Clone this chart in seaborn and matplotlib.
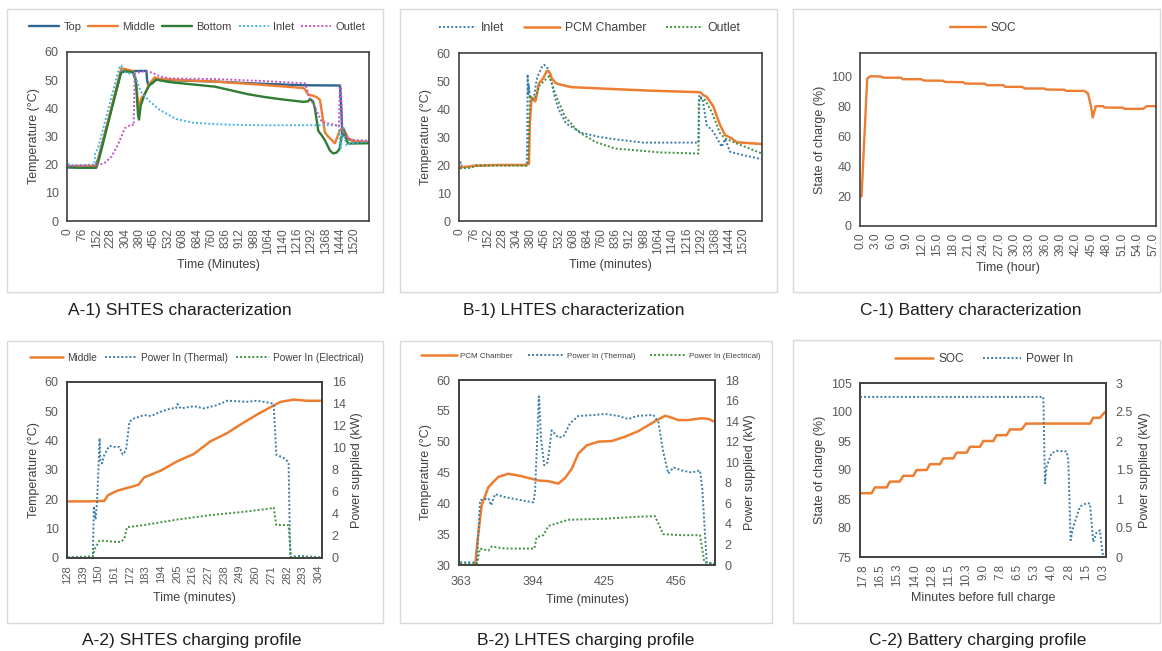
import numpy as np
import matplotlib
matplotlib.use('Agg')
import matplotlib.pyplot as plt
from matplotlib.patches import Rectangle
import seaborn as sns

# ------------------------------------------------------------------
# data
# ------------------------------------------------------------------
# A-1) SHTES characterization (minutes, degC)
a1_top_t = [0, 145, 160, 283, 300, 416, 420, 425, 445, 469, 540, 779, 1000, 1248, 1443, 1450, 1455, 1478, 1522, 1593]
a1_top = [19, 19, 22, 53, 53.2, 53.3, 50, 48.5, 48.8, 50.3, 50, 49.5, 48.8, 48.2, 48.1, 40, 31, 29.3, 28.2, 28]
a1_mid_t = [0, 150, 162, 283, 300, 345, 360, 375, 389, 407, 430, 460, 480, 600, 779, 1000, 1248, 1257, 1275, 1300,
            1319, 1337, 1363, 1380, 1416, 1443, 1460, 1487, 1522, 1593]
a1_mid = [19.5, 19.6, 22, 54.2, 54, 53.2, 50, 40, 43.5, 45, 48.5, 51, 50.5, 50, 49.5, 48.5, 47.2, 46.8, 44.8, 44.5,
          44, 43, 31.5, 30, 27.6, 32.3, 33, 29.3, 28.3, 28.1]
a1_bot_t = [0, 60, 150, 165, 280, 300, 345, 360, 372, 377, 386, 407, 430, 469, 540, 779, 956, 1045, 1133, 1248,
            1275, 1283, 1300, 1310, 1328, 1345, 1363, 1390, 1407, 1425, 1440, 1452, 1460, 1470, 1478, 1487, 1593]
a1_bot = [19.2, 18.9, 18.9, 22, 52.5, 53.2, 52.8, 50, 37.5, 36, 41, 45, 48, 50.2, 49.3, 47.7, 45, 44, 43.2, 42.3,
          42.5, 43.3, 42.5, 40, 32, 30.5, 28.7, 25, 24, 24.3, 25.5, 30, 32.8, 31, 28.5, 27.5, 27.6]
a1_in_t = [0, 10, 140, 145, 160, 274, 283, 292, 349, 354, 372, 386, 425, 487, 575, 664, 805, 1000, 1200, 1437,
           1443, 1447, 1455, 1462, 1470, 1478, 1496, 1593]
a1_in = [20.4, 19.8, 20, 24, 26, 55, 55.2, 53, 52, 51.9, 48.5, 46, 43, 39.4, 36.2, 34.9, 34.3, 34, 34, 34,
         27, 25.5, 31, 33, 29, 26.8, 27.5, 28.2]
a1_out_t = [0, 150, 191, 230, 265, 301, 336, 349, 354, 389, 425, 452, 487, 540, 779, 1000, 1257, 1283, 1310, 1345,
            1416, 1437, 1443, 1448, 1455, 1487, 1522, 1593]
a1_out = [19.5, 19.8, 20.4, 22.8, 27, 32.9, 34.3, 34, 52.3, 53.1, 53.1, 52.5, 51.3, 50.6, 50.4, 49.8, 48.9, 43.6, 40.6, 35.3,
          34.1, 33.5, 48.3, 48, 32.3, 29.3, 28.7, 28.5]

# B-1) LHTES characterization (minutes, degC)
b1_in_t = [0, 5, 9, 40, 80, 200, 358, 361, 363, 367, 370, 375, 381, 390, 399, 410, 420, 440, 452, 470,
           480, 492, 510, 527, 563, 581, 653, 742, 831, 984, 1279, 1281, 1284, 1302, 1323, 1359, 1404, 1422, 1449, 1520, 1619]
b1_in = [20.5, 21, 19.5, 19, 20, 20, 19.8, 30, 52.4, 45, 48.6, 44, 43.8, 44, 45, 50, 52.2, 55, 55.8, 54.6,
         52, 49.2, 44, 40.3, 35.5, 34.3, 31.5, 30.1, 29.2, 28, 28, 42, 45, 43.3, 34.3, 31.9, 26.5, 29.3, 24.7, 23.5, 22.1]
b1_pcm_t = [0, 9, 80, 200, 358, 370, 375, 384, 393, 402, 406, 424, 447, 465, 474, 485, 492, 510, 527, 599,
            831, 1000, 1288, 1305, 1323, 1359, 1380, 1395, 1422, 1458, 1485, 1619]
b1_pcm = [19, 19.2, 19.7, 20, 20, 20.5, 35, 43.8, 44, 42.7, 43, 49.2, 51, 53.5, 53.6, 52.5, 51, 49.5, 48.9, 47.8,
          47.1, 46.6, 46, 45, 44.4, 40.9, 37, 34.3, 30.7, 29.5, 28.1, 27.5]
b1_out_t = [0, 60, 80, 200, 358, 367, 375, 388, 402, 429, 477, 492, 510, 563, 635, 724, 831, 1073, 1279, 1284,
            1314, 1350, 1395, 1422, 1485, 1619]
b1_out = [18.8, 19, 19.7, 19.8, 19.8, 22, 45, 43.3, 43.8, 48.6, 51.6, 49.5, 45.6, 37.3, 31.9, 28.3, 25.9, 24.5, 24.1, 43.8,
          43.3, 39, 31.3, 29.5, 27.7, 24.1]

# C-1) Battery characterization (hour, %)
c1_h = [0, 0.3, 1.4, 2.0, 4.0, 4.6, 8.0, 8.3, 11.9, 12.4, 16.1, 16.5, 20.1, 20.4, 24.3, 24.6, 27.9, 28.2, 31.5, 32.0,
        35.8, 36.1, 39.7, 40.0, 43.6, 44.3, 44.9, 45.2, 45.8, 47.2, 47.5, 51.1, 51.4, 55.0, 55.7, 57.5]
c1_soc = [19.8, 19.8, 98.4, 100, 99.8, 99, 99, 98, 98, 97.1, 97, 96.2, 96, 95.1, 95, 94, 94, 92.9, 92.9, 91.8,
          91.8, 91.1, 91, 90.2, 90.2, 88.4, 79.5, 72.4, 80, 80, 79.1, 79, 78.2, 78.2, 80, 80]

# A-2) SHTES charging profile (minutes, degC / kW)
a2_mid_t = [128.5, 145, 154.2, 156.6, 163.5, 174, 178, 182.1, 193.7, 205.3, 216.9, 228.5, 240.2, 249.4, 261, 272.7,
            277.3, 286.6, 295.9, 306.5]
a2_mid = [19.3, 19.3, 19.5, 21.4, 23, 24.4, 25, 27.5, 29.8, 33, 35.5, 39.8, 42.6, 45.5, 48.9, 52, 53.2, 54, 53.6, 53.6]
a2_th_t = [128.5, 146.1, 146.8, 148, 149, 150.3, 150.8, 151.4, 152.5, 154.2, 157.7, 161.2, 164.7, 167, 169.3, 171.7,
           175.1, 182.1, 186.7, 193.7, 200.7, 204.2, 205.3, 207.6, 216.9, 223.9, 233.2, 240.2, 254.1, 261, 270.3,
           272.7, 274.5, 279.6, 283.1, 284.3, 290, 306.5]
a2_th = [0.05, 0.05, 4.7, 3.5, 5, 9, 10.9, 8.8, 8.6, 9.4, 10.2, 10.1, 10.1, 9.4, 9.8, 12.4,
         12.7, 13, 12.9, 13.3, 13.6, 13.6, 14, 13.6, 13.8, 13.6, 13.9, 14.3, 14.2, 14.3, 14.1,
         14, 9.4, 9.1, 8.7, 0.06, 0.2, 0.05]
a2_el_t = [128.5, 146.1, 147.3, 150.8, 158.9, 165.8, 168.2, 170, 182.1, 205.3, 228.5, 251.8, 270.3, 272.7, 274.5,
           283.1, 284.7, 306.5]
a2_el = [0.06, 0.15, 0.8, 1.6, 1.5, 1.45, 1.8, 2.8, 3, 3.5, 3.9, 4.2, 4.5, 4.6, 3.0, 3.0, 0.06, 0.05]

# B-2) LHTES charging profile (minutes, degC / kW)
b2_pcm_t = [369.1, 370.2, 371.9, 374.8, 377, 379.2, 383.5, 389.2, 396.5, 400.8, 405.1, 408, 410.9, 413.8, 417.4,
            422.4, 428.2, 433.9, 439.7, 446.9, 451.3, 454.1, 457, 461.3, 467.1, 470, 472.9]
b2_pcm = [30, 34.2, 39.7, 42.6, 43.5, 44.3, 44.8, 44.4, 43.7, 43.6, 43.2, 44.1, 45.6, 48.1, 49.4,
          50, 50.1, 50.8, 51.7, 53.3, 54.2, 53.9, 53.5, 53.5, 53.8, 53.7, 53.2]
b2_th_t = [362.6, 369.1, 369.8, 371.2, 374.8, 376, 377.7, 382, 389.2, 394.3, 395, 396.7, 397.6, 399, 400.5, 402.2,
           405.1, 407.3, 410.2, 413.8, 421, 425.3, 431.1, 435.4, 439, 446.2, 448.4, 450.5, 452.7, 454.9, 458.5,
           462.8, 466.4, 467.4, 469.3, 472.9]
b2_th = [0.26, 0.26, 0.1, 6.3, 6.5, 5.8, 6.9, 6.6, 6.3, 6.1, 7.1, 16.4, 12.3, 9.7, 10, 13.1,
         12.4, 12.5, 13.8, 14.5, 14.6, 14.7, 14.5, 14.2, 14.5, 14.6, 13.9, 11, 8.9, 9.5, 9.2,
         9, 9.2, 7.4, 0.26, 0.1]
b2_el_t = [362.6, 369.8, 371.2, 374.8, 376.3, 382, 394.7, 395.7, 398.6, 400.8, 403.7, 409.4, 425.3, 439.7, 446.9,
           450.5, 458.5, 466.4, 468.3, 472.9]
b2_el = [0.1, 0.1, 1.6, 1.4, 1.8, 1.6, 1.6, 2.7, 2.9, 3.8, 4, 4.4, 4.5, 4.7, 4.75, 3, 2.9, 2.9, 0.26, 0.1]

# C-2) Battery charging profile (minutes before full charge, % / kW)
c2_soc_m = [17.99, 17.14, 16.9, 16.05, 15.8, 15.1, 14.83, 14.1, 13.86, 13.13, 12.89, 12.16, 11.92, 11.19, 10.94,
            10.21, 9.97, 9.24, 9.0, 8.27, 8.03, 7.3, 7.05, 6.2, 5.89, 1.22, 0.98, 0.49, 0.13]
c2_soc = [86, 86, 87, 87, 88, 88, 89, 89, 90, 90, 91, 91, 92, 92, 93, 93, 94, 94, 95, 95, 96, 96, 97, 97, 98, 98, 99, 99, 100]
c2_pw_m = [17.99, 4.62, 4.5, 4.38, 4.02, 3.65, 2.92, 2.8, 2.63, 2.44, 1.95, 1.46, 1.22, 0.98, 0.73, 0.49, 0.3, 0.13]
c2_pw = [2.76, 2.76, 1.27, 1.56, 1.79, 1.83, 1.82, 1.67, 0.29, 0.52, 0.87, 0.93, 0.92, 0.26, 0.43, 0.46, 0.06, 0]
c2_ticks = [17.75, 16.5, 15.25, 14.0, 12.75, 11.5, 10.25, 9.0, 7.75, 6.5, 5.25, 4.0, 2.75, 1.5, 0.25]
c2_ticklabels = ['17.8', '16.5', '15.3', '14.0', '12.8', '11.5', '10.3', '9.0', '7.8', '6.5', '5.3', '4.0',
                 '2.8', '1.5', '0.3']

titles = ['A-1) SHTES characterization', 'B-1) LHTES characterization', 'C-1) Battery characterization',
          'A-2) SHTES charging profile', 'B-2) LHTES charging profile', 'C-2) Battery charging profile']

# ------------------------------------------------------------------
# style
# ------------------------------------------------------------------
sns.set_style('white')
plt.rcParams['font.family'] = ['Liberation Sans', 'DejaVu Sans']

ORANGE = '#ED7D31'
DBLUE = '#2C6591'
GREEN = '#2E7D32'
LBLUE = '#45B4E5'
MAGENTA = '#C454C4'
MBLUE = '#3A7DAA'
MGREEN = '#3F9142'
TXT = '#595959'
LAB = '#404040'
DOT = (0, (1, 1.1))
AXFS = 9

W, H = 1162, 651
fig = plt.figure(figsize=(W / 100, H / 100), dpi=100)


def px_box(x0, y0, x1, y1):
    return [x0 / W, 1 - y1 / H, (x1 - x0) / W, (y1 - y0) / H]


def frame(x0, y0, x1, y1):
    fig.add_artist(Rectangle((x0 / W, 1 - y1 / H), (x1 - x0) / W, (y1 - y0) / H, transform=fig.transFigure,
                             fill=False, edgecolor='#D9D9D9', linewidth=1.0))


def draw(ax, x, y, color, label, ls='-', lw=1.6):
    sns.lineplot(x=x, y=y, ax=ax, color=color, linestyle=ls, linewidth=lw,
                 estimator=None, sort=False, legend=False)
    line = ax.lines[-1]
    line.set_label(label)
    return line


def style(ax, xfs=8.6, yfs=9, xpad=5, ypad=6):
    ax.tick_params(axis='both', length=0, colors=TXT)
    ax.tick_params(axis='x', labelsize=xfs, pad=xpad)
    ax.tick_params(axis='y', labelsize=yfs, pad=ypad)
    for s in ax.spines.values():
        s.set_color('#404040')
        s.set_linewidth(1.2)
    ax.grid(False)


def legend(handles, cx, cy, fs, hl=3.0, cs=1.2):
    fig.legend(handles, [h.get_label() for h in handles], loc='center', bbox_to_anchor=(cx / W, 1 - cy / H),
               ncol=len(handles), frameon=False, fontsize=fs, handlelength=hl, columnspacing=cs,
               handletextpad=0.4, labelcolor=LAB, borderaxespad=0, borderpad=0)


# panel frames
frame(7, 9, 383, 292)
frame(400, 9, 777, 292)
frame(793, 9, 1160, 292)
frame(7, 341, 383, 623)
frame(400, 341, 772, 623)
frame(793, 340, 1160, 623)

# ---------------- A-1 ----------------
ax = fig.add_axes(px_box(67, 52, 369, 221))
hs = [draw(ax, a1_top_t, a1_top, DBLUE, 'Top', lw=1.7),
      draw(ax, a1_mid_t, a1_mid, ORANGE, 'Middle', lw=1.7),
      draw(ax, a1_bot_t, a1_bot, GREEN, 'Bottom', lw=1.7),
      draw(ax, a1_in_t, a1_in, LBLUE, 'Inlet', ls=DOT, lw=1.4),
      draw(ax, a1_out_t, a1_out, MAGENTA, 'Outlet', ls=DOT, lw=1.4)]
ax.set_xlim(-5, 1597)
ax.set_ylim(0, 60)
ax.set_yticks(range(0, 61, 10))
ax.set_xticks(range(0, 1521, 76))
ax.set_xticklabels([str(v) for v in range(0, 1521, 76)], rotation=90)
ax.set_ylabel('Temperature (°C)', fontsize=AXFS, color=LAB, labelpad=3)
ax.set_xlabel('Time (Minutes)', fontsize=AXFS, color=LAB, labelpad=3)
style(ax)
legend(hs, 197, 27, 8.0, hl=2.7, cs=0.6)

# ---------------- B-1 ----------------
ax = fig.add_axes(px_box(459, 53, 762, 221))
hs = [draw(ax, b1_in_t, b1_in, MBLUE, 'Inlet', ls=DOT, lw=1.4),
      draw(ax, b1_pcm_t, b1_pcm, ORANGE, 'PCM Chamber', lw=1.8),
      draw(ax, b1_out_t, b1_out, MGREEN, 'Outlet', ls=DOT, lw=1.4)]
ax.set_xlim(-5, 1620)
ax.set_ylim(0, 60)
ax.set_yticks(range(0, 61, 10))
ax.set_xticks(range(0, 1521, 76))
ax.set_xticklabels([str(v) for v in range(0, 1521, 76)], rotation=90)
ax.set_ylabel('Temperature (°C)', fontsize=AXFS, color=LAB, labelpad=3)
ax.set_xlabel('Time (minutes)', fontsize=AXFS, color=LAB, labelpad=3)
style(ax)
legend(hs, 590, 28, 8.8, hl=3.0, cs=1.6)

# ---------------- C-1 ----------------
ax = fig.add_axes(px_box(860, 53, 1156, 226))
hs = [draw(ax, c1_h, c1_soc, ORANGE, 'SOC', lw=1.7)]
ax.set_xlim(0, 57.5)
ax.set_ylim(0, 115.5)
ax.set_yticks(range(0, 101, 20))
ax.set_xticks(np.arange(0, 57.1, 3))
ax.set_xticklabels([f'{v:.1f}' for v in np.arange(0, 57.1, 3)], rotation=90)
ax.set_ylabel('State of charge (%)', fontsize=AXFS, color=LAB, labelpad=3)
ax.set_xlabel('Time (hour)', fontsize=AXFS, color=LAB, labelpad=4)
style(ax)
legend(hs, 983, 28, 8.6, hl=3.0)

# ---------------- A-2 ----------------
ax = fig.add_axes(px_box(67, 382, 322, 558))
ax2 = ax.twinx()
hs = [draw(ax, a2_mid_t, a2_mid, ORANGE, 'Middle', lw=1.8),
      draw(ax2, a2_th_t, a2_th, MBLUE, 'Power In (Thermal)', ls=DOT, lw=1.4),
      draw(ax2, a2_el_t, a2_el, MGREEN, 'Power In (Electrical)', ls=DOT, lw=1.4)]
ax.set_xlim(128.5, 306.5)
ax.set_ylim(0, 60)
ax.set_yticks(range(0, 61, 10))
ax2.set_ylim(0, 16)
ax2.set_yticks(range(0, 17, 2))
ax.set_xticks(range(128, 305, 11))
ax.set_xticklabels([str(v) for v in range(128, 305, 11)], rotation=90)
ax.set_ylabel('Temperature (°C)', fontsize=AXFS, color=LAB, labelpad=3)
ax2.set_ylabel('Power supplied (kW)', fontsize=AXFS, color=LAB, labelpad=4)
ax.set_xlabel('Time (minutes)', fontsize=AXFS, color=LAB, labelpad=6)
style(ax, xfs=8)
style(ax2, ypad=7)
legend(hs, 197, 358, 7.3, hl=3.2, cs=0.8)

# ---------------- B-2 ----------------
ax = fig.add_axes(px_box(459, 380, 715, 565))
ax2 = ax.twinx()
hs = [draw(ax, b2_pcm_t, b2_pcm, ORANGE, 'PCM Chamber', lw=1.8),
      draw(ax2, b2_th_t, b2_th, MBLUE, 'Power In (Thermal)', ls=DOT, lw=1.4),
      draw(ax2, b2_el_t, b2_el, MGREEN, 'Power In (Electrical)', ls=DOT, lw=1.4)]
ax.set_xlim(362.1, 472.9)
ax.set_ylim(30, 60)
ax.set_yticks(range(30, 61, 5))
ax2.set_ylim(0, 18)
ax2.set_yticks(range(0, 19, 2))
ax.set_xticks([363, 394, 425, 456])
ax.set_xticklabels(['363', '394', '425', '456'])
ax.set_ylabel('Temperature (°C)', fontsize=AXFS, color=LAB, labelpad=3)
ax2.set_ylabel('Power supplied (kW)', fontsize=AXFS, color=LAB, labelpad=4)
ax.set_xlabel('Time (minutes)', fontsize=AXFS, color=LAB, labelpad=4)
style(ax, xfs=9, xpad=8)
style(ax2, ypad=7)
legend(hs, 591, 356, 5.8, hl=4.5, cs=1.8)

# ---------------- C-2 ----------------
ax = fig.add_axes(px_box(860, 383, 1106, 557))
ax2 = ax.twinx()
hs = [draw(ax, c2_soc_m, c2_soc, ORANGE, 'SOC', lw=1.8),
      draw(ax2, c2_pw_m, c2_pw, MBLUE, 'Power In', ls=DOT, lw=1.4)]
ax.set_xlim(17.99, 0.05)
ax.set_ylim(75, 105)
ax.set_yticks(range(75, 106, 5))
ax2.set_ylim(0, 3)
ax2.set_yticks([0, 0.5, 1, 1.5, 2, 2.5, 3])
ax2.set_yticklabels(['0', '0.5', '1', '1.5', '2', '2.5', '3'])
ax.set_xticks(c2_ticks)
ax.set_xticklabels(c2_ticklabels, rotation=90)
ax.set_ylabel('State of charge (%)', fontsize=AXFS, color=LAB, labelpad=3)
ax2.set_ylabel('Power supplied (kW)', fontsize=AXFS, color=LAB, labelpad=4)
ax.set_xlabel('Minutes before full charge', fontsize=AXFS, color=LAB, labelpad=4)
style(ax, xfs=8.4)
style(ax2, ypad=7)
legend(hs, 984, 359, 8.6, hl=3.2, cs=1.6)

# ---------------- panel titles ----------------
title_pos = [(180, 310), (574, 310), (971, 310), (192, 640), (586, 640), (978, 640)]
for t, (cx, cy) in zip(titles, title_pos):
    fig.text(cx / W, 1 - cy / H, t, ha='center', va='center', fontsize=12.5, color='#1f1f1f')

fig.savefig('out.png', dpi=100)
